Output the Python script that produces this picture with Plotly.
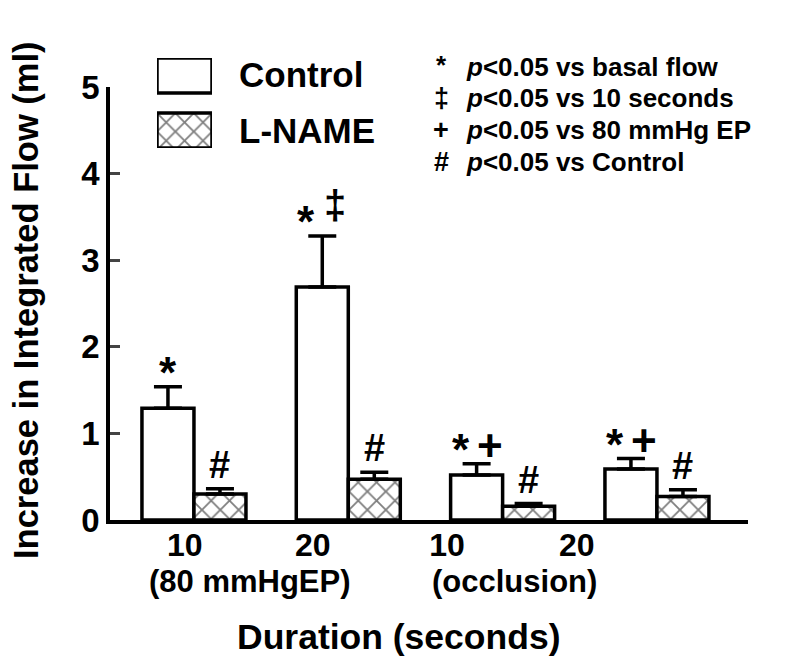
import plotly.graph_objects as go

# data
durations = ["10", "20", "10", "20"]
duration_ticks = [-0.06, 0.77, 1.64, 2.48]
groups = ["(80 mmHgEP)", "(occlusion)"]
group_pos = [0.36, 2.08]
control = [1.29, 2.69, 0.52, 0.59]
control_err = [0.25, 0.59, 0.13, 0.12]
lname = [0.30, 0.47, 0.16, 0.27]
lname_err = [0.06, 0.08, 0.03, 0.08]
control_marks = [["*"], ["*", "‡"], ["*", "+"], ["*", "+"]]
lname_marks = ["#", "#", "#", "#"]
notes = [("*", "basal flow"), ("‡", "10 seconds"), ("+", "80 mmHg EP"), ("#", "Control")]

FONT = "Liberation Sans, Arial, Helvetica, sans-serif"
LW = 3.5
x = list(range(len(durations)))

# page layout: the page body adds 8px, plot area sits at page x 110..748, y 40..520
OFF = 8
FW, FH = 800 - 2 * OFF, 665 - 2 * OFF
L, T = 110 - OFF, 40 - OFF
R, B = FW - (748 - OFF), FH - (520 - OFF)


def px(p):
    return (p - 110) / 638


def py(p):
    return (520 - p) / 480


hatch = dict(shape="x", fgcolor="black", bgcolor="white", size=13, solidity=0.26)

fig = go.Figure()
fig.add_trace(go.Bar(
    x=x, y=control, name="Control", offsetgroup="c",
    marker=dict(color="white", line=dict(color="black", width=LW)),
    error_y=dict(type="data", array=control_err, arrayminus=[0] * 4, symmetric=False,
                 color="black", thickness=LW, width=14),
))
fig.add_trace(go.Bar(
    x=x, y=lname, name="L-NAME", offsetgroup="l",
    marker=dict(color="white", line=dict(color="black", width=LW), pattern=hatch),
    error_y=dict(type="data", array=lname_err, arrayminus=[0] * 4, symmetric=False,
                 color="black", thickness=LW, width=14),
))

# legend swatches on a small helper axis
fig.add_trace(go.Bar(
    x=[1, 1], y=[0, 1], orientation="h", xaxis="x2", yaxis="y2", width=0.64,
    marker=dict(color="white", line=dict(color="black", width=LW),
                pattern=dict(hatch, shape=["", "x"])),
    showlegend=False, hoverinfo="skip",
))

bw = (1 - 0.326) / 2
mark_style = {"*": (44, 14), "‡": (40, 31), "+": (44, 18), "#": (38, 24)}
ann = []
for i in x:
    marks = control_marks[i]
    for j, m in enumerate(marks):
        size, ys = mark_style[m]
        xs = 0 if len(marks) == 1 else (-16 if j == 0 else 13)
        ann.append(dict(x=i - bw / 2, y=control[i] + control_err[i], text=m,
                        showarrow=False, xanchor="center", yanchor="middle",
                        xshift=xs, yshift=ys, font=dict(size=size)))
    size, ys = mark_style[lname_marks[i]]
    ann.append(dict(x=i + bw / 2, y=lname[i] + lname_err[i], text=lname_marks[i],
                    showarrow=False, xanchor="center", yanchor="middle",
                    yshift=ys, font=dict(size=size)))

for g, gp in zip(groups, group_pos):
    ann.append(dict(x=gp, y=py(581), yref="paper", text=g, showarrow=False,
                    xanchor="center", yanchor="middle", font=dict(size=31)))

ann.append(dict(x=px(398), y=py(637), xref="paper", yref="paper", text="Duration (seconds)",
                xanchor="center", yanchor="middle", showarrow=False, font=dict(size=35.5)))
ann.append(dict(x=px(26), y=py(300), xref="paper", yref="paper", text="Increase in Integrated Flow (ml)",
                xanchor="center", yanchor="middle", textangle=-90, showarrow=False,
                font=dict(size=34.5)))

ann.append(dict(x=px(237), y=py(75), xref="paper", yref="paper", text="Control",
                xanchor="left", yanchor="middle", showarrow=False, font=dict(size=35)))
ann.append(dict(x=px(237), y=py(130), xref="paper", yref="paper", text="L-NAME",
                xanchor="left", yanchor="middle", showarrow=False, font=dict(size=35)))

for k, (sym, txt) in enumerate(notes):
    yy = py(67 + 31.5 * k)
    ann.append(dict(x=px(441), y=yy, xref="paper", yref="paper", text=sym, showarrow=False,
                    xanchor="center", yanchor="middle", yshift=2 if sym == "*" else 0,
                    font=dict(size=26 if sym == "*" else 27)))
    ann.append(dict(x=px(464), y=yy, xref="paper", yref="paper", xanchor="left", yanchor="middle",
                    text="<i>p</i>&lt;0.05 vs " + txt, showarrow=False, font=dict(size=26)))

fig.update_layout(
    width=FW, height=FH,
    margin=dict(l=L, r=R, t=T, b=B),
    paper_bgcolor="white", plot_bgcolor="white",
    font=dict(family=FONT, color="black", size=28, weight="bold"),
    barmode="group", bargap=0.326, bargroupgap=0,
    showlegend=False,
    annotations=ann,
    xaxis=dict(range=[-0.544, 3.59], showline=True, linewidth=LW, linecolor="black",
               showgrid=False, zeroline=False, ticks="", automargin=False,
               tickvals=duration_ticks, ticktext=durations, tickfont=dict(size=32),
               ticklabelstandoff=-6),
    yaxis=dict(range=[0, 5], domain=[0, 433 / 480], showline=True, linewidth=LW, linecolor="black",
               showgrid=False, zeroline=False, ticks="inside", ticklen=10, tickwidth=3,
               automargin=False, tickvals=[0, 1, 2, 3, 4, 5], tickfont=dict(size=33),
               ticksuffix="\u00a0\u00a0\u00a0"),
    xaxis2=dict(domain=[px(157), px(212)], range=[0, 1], anchor="y2", visible=False),
    yaxis2=dict(domain=[py(148), py(58)], range=[1.318, -0.318], anchor="x2", visible=False),
)

fig.write_html("out.html")
